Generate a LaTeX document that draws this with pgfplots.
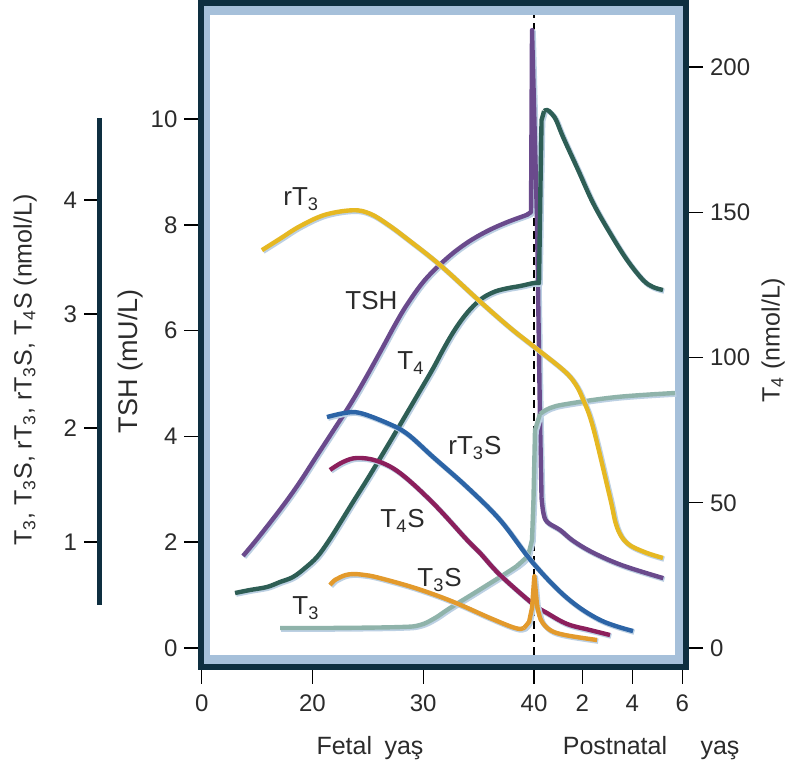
\documentclass[border=0pt]{standalone}
\usepackage{pgfplots}
\pgfplotsset{compat=1.18}
\usepackage{fontspec}
\setmainfont{Liberation Sans}

\definecolor{boxdark}{HTML}{0E2F40}
\definecolor{bandblue}{HTML}{A6C0DA}
\definecolor{shadowblue}{HTML}{BCD0E3}
\definecolor{ctsh}{HTML}{6A4A8C}
\definecolor{ct4}{HTML}{2E5E55}
\definecolor{crt3}{HTML}{E6B822}
\definecolor{ct3}{HTML}{8FB3AA}
\definecolor{crt3s}{HTML}{2C64A6}
\definecolor{ct4s}{HTML}{8C1F5C}
\definecolor{ct3s}{HTML}{E39A2C}
\definecolor{txt}{HTML}{2B2B2B}

\pgfplotsset{
  /pgf/number format/assume math mode=true,
  base/.style={scale only axis, width=242.25pt, height=331.75pt,
    at={(100.75pt,50.25pt)}, anchor=south west,
    xmin=9.982, xmax=53.72,
    tick align=outside, major tick length=8.5pt,
    tick style={line width=0.7pt, black},
    ticklabel style={font=\fontsize{12}{14}\selectfont, text=txt},
    label style={font=\fontsize{12.5}{15}\selectfont, text=txt}},
  curve/.style={line width=2.2pt, line join=round,
    preaction={draw=shadowblue, line width=2.6pt,
      transform canvas={shift={(0.6pt,-0.6pt)}}}},
}

\begin{document}
\begin{tikzpicture}
\path[use as bounding box] (0,0) rectangle (397pt,383.5pt);

% TSH axis, draws the frame
\begin{axis}[base, ymin=-0.350, ymax=12.193,
  axis line style={draw=boxdark, line width=3pt},
  axis background/.style={fill=bandblue},
  xtick={10,20,30,40,44.36,48.87,53.39},
  xticklabels={0,20,30,40,2,4,6},
  xticklabel style={yshift=-2pt},
  ytick={0,2,...,10}, xtick pos=bottom, ytick pos=left,
  ylabel={TSH (mU/L)},
  ylabel style={at={(axis description cs:-0.1455,0.46)}, anchor=center,
    font=\fontsize{13.5}{16}\selectfont}]
  \fill[white] ([shift={(4.25pt,5.75pt)}]rel axis cs:0,0) rectangle ([shift={(-5.5pt,-6pt)}]rel axis cs:1,1);
  \draw[black, line width=0.9pt, dash pattern=on 4pt off 2.5pt] (axis cs:39.97,-0.132) -- (axis cs:39.97,11.966);
  % TSH: fetal rise, birth surge, postnatal fall
  \addplot[curve, ctsh, smooth, tension=0.6] coordinates {
    (13.73,1.74) (14.81,2.01) (16.17,2.37) (17.52,2.74) (18.87,3.14) (20.23,3.58)
    (21.85,4.10) (23.39,4.60) (24.74,5.08) (26.28,5.66) (27.45,6.11) (28.53,6.49)
    (30.16,6.96) (32.15,7.37) (33.95,7.66) (35.76,7.88) (37.57,8.05) (39.37,8.19)
    (39.73,8.24)};
  \addplot[curve, ctsh] coordinates {
    (39.37,8.19) (39.73,8.24) (39.82,11.68) (40.27,8.09) (40.54,4.31) (40.68,2.84)};
  \addplot[curve, ctsh, smooth, tension=0.6] coordinates {
    (40.68,2.84) (40.85,2.55) (41.2,2.38) (42.35,2.23) (43.5,2.03) (45.35,1.80)
    (48.0,1.56) (51.67,1.32)};
\end{axis}

% T4 axis on the right
\begin{axis}[base, ymin=-6.368, ymax=222.03,
  axis x line=none, axis y line*=right,
  y axis line style={draw=boxdark, line width=3pt},
  ytick={0,50,...,200},
  ylabel={T\textsubscript{4} (nmol/L)},
  ylabel style={at={(axis description cs:1.18,0.492)}, anchor=center}]
  \addplot[curve, ct4, smooth, tension=0.6] coordinates {
    (13.01,18.93) (14.36,19.97) (15.89,21.00) (17.07,22.72) (18.24,24.44) (19.33,27.54)
    (20.41,31.33) (21.40,36.49) (22.49,43.03) (23.66,50.26) (24.91,57.83) (26.37,67.0)
    (27.90,76.8) (29.44,86.8) (30.88,96.2) (31.78,102.6) (32.69,108.6) (33.59,113.6)
    (34.49,117.6) (35.40,120.6) (36.48,122.7) (37.56,123.8) (38.74,124.6) (40.00,125.65)
    (40.45,125.65)};
  \addplot[curve, ct4] coordinates {
    (40.00,125.65) (40.45,125.65) (40.59,161.1) (40.68,181.76) (40.91,184.85)};
  \addplot[curve, ct4, smooth, tension=0.6] coordinates {
    (40.91,184.85) (41.18,185.20) (41.54,184.16) (41.99,181.76) (42.62,175.9) (43.98,164.54)
    (45.33,153.18) (46.86,142.86) (48.40,133.56) (49.84,126.68) (50.74,124.27) (51.64,123.24)};
\end{axis}

% nmol/L series
\begin{axis}[base, ymin=-0.0921, ymax=5.728, hide axis]
  \addplot[curve, ct3, smooth, tension=0.6] coordinates {
    (17.07,0.246) (21.85,0.246) (27.90,0.254) (29.71,0.272) (31.06,0.333) (32.42,0.421)
    (35.40,0.60) (38.47,0.79) (39.46,0.877)};
  \addplot[curve, ct3] coordinates {
    (38.47,0.79) (39.46,0.877) (39.82,1.018) (39.95,1.368) (40.09,1.982) (40.54,2.123)};
  \addplot[curve, ct3, smooth, tension=0.6] coordinates {
    (40.54,2.123) (41.44,2.175) (42.98,2.211) (47.49,2.272) (52.73,2.307)};
  \addplot[curve, crt3, smooth, tension=0.6] coordinates {
    (15.44,3.56) (17.07,3.66) (18.87,3.77) (21.13,3.87) (23.66,3.91) (25.19,3.88)
    (26.73,3.79) (28.53,3.66) (31.51,3.43) (35.12,3.11) (37.83,2.88) (39.91,2.72)
    (42.62,2.51) (43.71,2.39) (44.43,2.25) (45.32,2.01) (46.86,1.39) (47.49,1.13)
    (48.40,0.99) (50.02,0.91) (51.64,0.86)};
  \addplot[curve, ct4s, smooth, tension=0.6] coordinates {
    (21.58,1.632) (22.76,1.702) (24.02,1.737) (25.83,1.711) (27.90,1.605) (30.88,1.342)
    (33.95,1.018) (35.12,0.904) (36.93,0.711) (39.91,0.456) (41.17,0.377) (42.98,0.281)
    (45.05,0.228) (46.86,0.184)};
  \addplot[curve, crt3s, smooth, tension=0.6] coordinates {
    (21.31,2.096) (22.94,2.132) (24.29,2.132) (26.73,2.044) (28.53,1.950) (30.88,1.746)
    (33.95,1.482) (36.93,1.193) (39.91,0.816) (42.98,0.509) (45.96,0.316) (48.94,0.219)};
  \addplot[curve, ct3s, smooth, tension=0.6] coordinates {
    (21.58,0.623) (22.03,0.667) (22.48,0.690) (23.0,0.710) (23.66,0.719) (24.6,0.712)
    (25.83,0.690) (28.81,0.610) (31.24,0.530) (33.32,0.450) (36.03,0.333) (38.28,0.246)
    (39.10,0.246) (39.55,0.298)};
  \addplot[curve, ct3s] coordinates {
    (39.10,0.246) (39.55,0.298) (39.82,0.421) (40.03,0.70) (40.27,0.447) (40.63,0.316)};
  \addplot[curve, ct3s, smooth, tension=0.6] coordinates {
    (40.27,0.447) (40.63,0.316) (41.44,0.228) (42.80,0.184) (45.69,0.140)};
\end{axis}

% separate nmol/L scale bar
\begin{axis}[scale only axis, width=1pt, height=243.5pt,
  at={(50pt,81pt)}, anchor=south west,
  xmin=0, xmax=1, ymin=0.447, ymax=4.719,
  axis x line=none, axis y line*=left,
  y axis line style={draw=boxdark, line width=2.5pt},
  ytick={1,2,3,4}, tick align=outside, major tick length=8pt,
  tick style={line width=0.7pt, black},
  ticklabel style={font=\fontsize{12}{14}\selectfont, text=txt},
  ylabel={T\textsubscript{3}, T\textsubscript{3}S, rT\textsubscript{3}, rT\textsubscript{3}S, T\textsubscript{4}S (nmol/L)},
  ylabel style={at={(axis description cs:-37.5,0.4825)}, anchor=center,
    font=\fontsize{12.5}{15}\selectfont, text=txt}]
\end{axis}

% curve names
\begin{scope}[every node/.style={anchor=base west, inner sep=0pt, text=txt, font=\fontsize{13}{15}\selectfont}]
  \node at (141.5pt,280.5pt) {rT\textsubscript{3}};
  \node at (172.5pt,228.5pt) {TSH};
  \node at (198.5pt,198.5pt) {T\textsubscript{4}};
  \node at (224pt,156pt) {rT\textsubscript{3}S};
  \node at (190pt,119.5pt) {T\textsubscript{4}S};
  \node at (208.5pt,90pt) {T\textsubscript{3}S};
  \node at (146pt,76pt) {T\textsubscript{3}};
\end{scope}
\begin{scope}[every node/.style={anchor=base, inner sep=0pt, text=txt, font=\fontsize{12.5}{15}\selectfont}]
  \node at (185pt,6pt) {Fetal\hspace{0.5em}yaş};
  \node at (307.5pt,6pt) {Postnatal};
  \node at (360pt,6pt) {yaş};
\end{scope}
\end{tikzpicture}
\end{document}
